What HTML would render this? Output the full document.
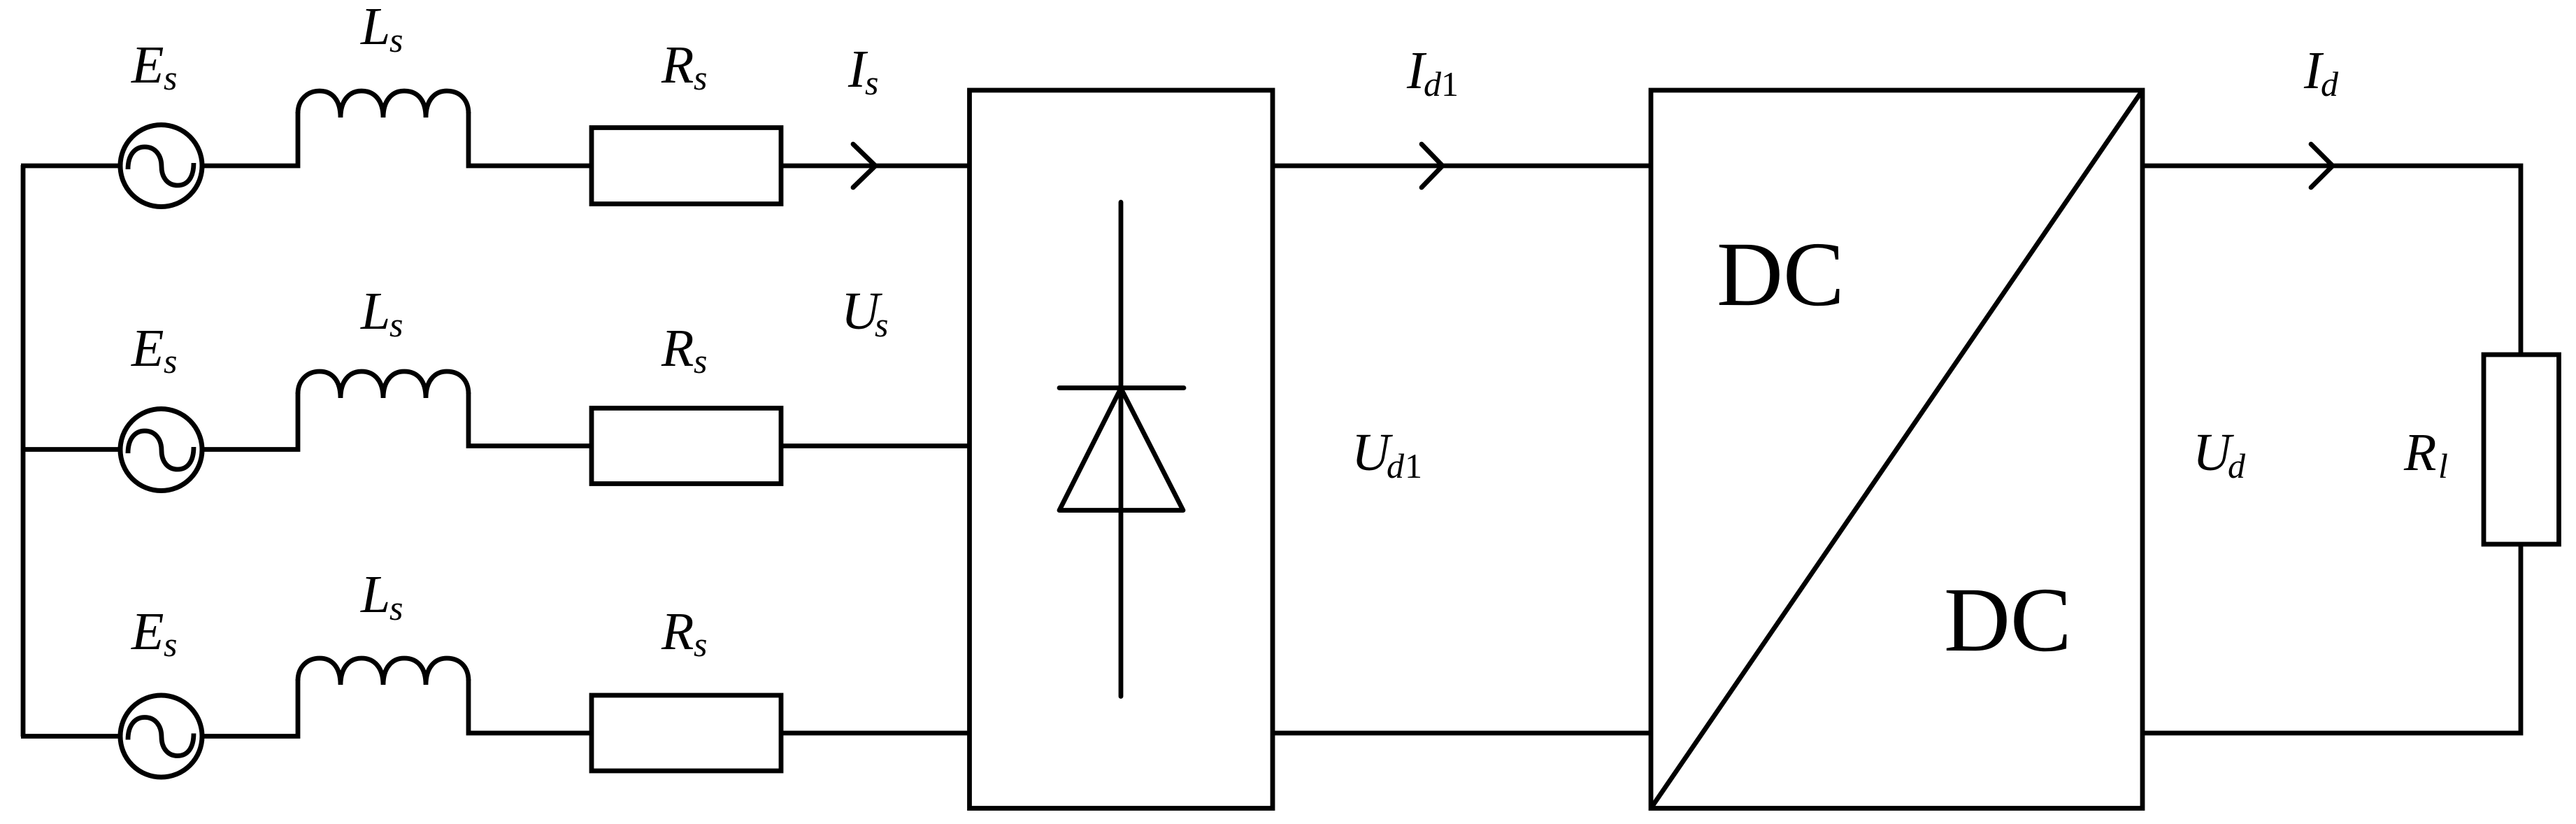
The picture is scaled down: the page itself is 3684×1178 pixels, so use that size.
<!DOCTYPE html>
<html><head><meta charset="utf-8"><style>
html,body{margin:0;padding:0;background:#fff}
svg{display:block}
text{font-family:"Liberation Serif",serif;fill:#000}
.m{font-size:76px;font-style:italic}
.s{font-size:50px;font-style:italic}
.n{font-size:50px}
.dc{font-size:131.500px}
</style></head><body>
<svg width="3684" height="1178" viewBox="0 0 3684 1178" xmlns="http://www.w3.org/2000/svg">
<defs>
<g id="src" fill="none" stroke="#000">
<circle cx="230.500" cy="0" r="58.500" stroke-width="7"/>
<path d="M183 5C183 -17 194 -27 207 -27C222 -27 231 -15 231 1C231 17 240 28 254 28C268 28 277 17 277 -4" stroke-width="6.800"/>
</g>
<path id="ind" fill="none" stroke="#000" stroke-width="6.800" d="M426 32C426 12 440 0 457 0C475 0 487 13 487 38C487 13 500 0 517 0C535 0 548 13 548 38C548 13 561 0 578 0C597 0 609 13 609 38C609 13 622 0 639 0C658 0 670 13 670 32"/>
</defs>
<g fill="none" stroke="#000" stroke-width="6.800">
<path d="M33 236V1053"/>
<path d="M30 237H171M290 237H426V160M670 160V237H846M1117 237H1387"/>
<path d="M30 642.500H171M290 642.500H426V561M670 561V637.500H846M1117 637.500H1387"/>
<path d="M30 1052.500H171M290 1052.500H426V971M670 971V1048H846M1117 1048H1387"/>
<rect x="846" y="182.500" width="271" height="109"/>
<rect x="846" y="583.500" width="271" height="108"/>
<rect x="846" y="994" width="271" height="108"/>
<rect x="1386.500" y="129" width="433.500" height="1026.500"/>
<rect x="2361" y="129" width="703" height="1026.500"/>
<path d="M2361 1155.500L3064 129"/>
<path d="M1820 237H2361M1820 1048H2361M3064 237H3605V1048H3064"/>
<path d="M1603 289V995.500M1515 554.500H1693" stroke-linecap="round"/>
<path d="M1603 555L1515 729.500H1692Z" stroke-linejoin="round"/>
<path d="M1220 206L1252 237L1220 268M2033 206L2063 237L2033 268M3305 206L3336 237L3305 268" stroke-linecap="round"/>
<rect x="3552" y="507" width="107.500" height="271" fill="#fff"/>
</g>
<use href="#src" y="237"/><use href="#src" y="643"/><use href="#src" y="1052.500"/>
<use href="#ind" y="130"/><use href="#ind" y="531"/><use href="#ind" y="941"/>

<text class="m" x="188" y="118">E</text><text class="s" x="234" y="128">s</text>
<text class="m" x="188" y="523">E</text><text class="s" x="234" y="533">s</text>
<text class="m" x="188" y="928">E</text><text class="s" x="234" y="938">s</text>
<text class="m" x="516" y="63">L</text><text class="s" x="557" y="74">s</text>
<text class="m" x="516" y="470">L</text><text class="s" x="557" y="481">s</text>
<text class="m" x="516" y="875">L</text><text class="s" x="557" y="886">s</text>
<text class="m" x="946" y="118">R</text><text class="s" x="992" y="128">s</text>
<text class="m" x="946" y="523">R</text><text class="s" x="992" y="533">s</text>
<text class="m" x="946" y="928">R</text><text class="s" x="992" y="938">s</text>
<text class="m" x="1213" y="124">I</text><text class="s" x="1237" y="135">s</text>
<text class="m" x="1203" y="470">U</text><text class="s" x="1251" y="481">s</text>
<text class="m" x="2012" y="126">I</text><text class="s" x="2036" y="137">d</text><text class="n" x="2061" y="137">1</text>
<text class="m" x="1933" y="672">U</text><text class="s" x="1983" y="683">d</text><text class="n" x="2009" y="683">1</text>
<text class="m" x="3295" y="126">I</text><text class="s" x="3319" y="137">d</text>
<text class="m" x="3136" y="672">U</text><text class="s" x="3186" y="683">d</text>
<text class="m" x="3438" y="672">R</text><text class="s" x="3487" y="683">l</text>
<text class="dc" x="2455" y="436">DC</text>
<text class="dc" x="2780" y="930">DC</text>
</svg>
</body></html>
